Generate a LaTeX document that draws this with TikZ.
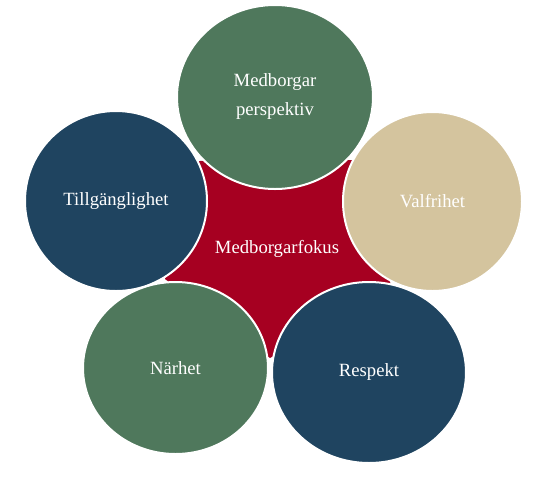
\documentclass[tikz,border=0pt]{standalone}
\usepackage{fontspec}
\setmainfont{Liberation Serif}
\usepackage{xcolor}
\usepackage{tikz}
\usetikzlibrary{shapes.geometric, positioning}
\definecolor{svlcolor0}{HTML}{4F785C}
\definecolor{svlcolor1}{HTML}{1F4460}
\definecolor{svlcolor2}{HTML}{D4C49E}
\definecolor{svlcolor3}{HTML}{A60021}
\definecolor{svlcolor4}{HTML}{FFFFFF}
\tikzset{
  element_idle_node/.style={ellipse, draw=svlcolor4, line width=1.5pt, inner sep=0pt, text=svlcolor4, align=center, font=\fontsize{14}{21.75}\selectfont},
  element_green_node/.style={element_idle_node, fill=svlcolor0},
  element_blue_node/.style={element_idle_node, fill=svlcolor1},
  element_sand_node/.style={element_idle_node, fill=svlcolor2},
  center_star/.style={fill=svlcolor3},
  center_label/.style={text=svlcolor4, font=\fontsize{14}{17}\selectfont}
}
\begin{document}
\begin{tikzpicture}[x=0.75pt, y=-0.75pt]
\useasboundingbox (0,0) rectangle (553,483);
% centre star
\coordinate (tip_1) at (199,161);
\coordinate (tip_2) at (352,160);
\coordinate (tip_3) at (391,285);
\coordinate (tip_4) at (270,358);
\coordinate (tip_5) at (165,279);
\fill[center_star] (tip_1) -- (tip_2) -- (tip_3) -- (tip_4) -- (tip_5) -- cycle;
\node[center_label] (focus_node) at (277,249) {Medborgarfokus};
% outer ellipses
\node[element_green_node, minimum width=147pt, minimum height=138pt] (perspective_node) at (275,97) {Medborgar\\perspektiv};
\node[element_sand_node, minimum width=134.25pt, minimum height=134.25pt] (choice_node) at (432.5,201.5) {Valfrihet};
\node[element_blue_node, minimum width=145.5pt, minimum height=135.75pt] (respect_node) at (369,372.5) {Respekt};
\node[element_green_node, minimum width=138.75pt, minimum height=129pt] (nearness_node) at (175.5,368) {Närhet};
\node[element_blue_node, minimum width=136.5pt, minimum height=135pt] (access_node) at (116,201) {Tillgänglighet};
\end{tikzpicture}
\end{document}
